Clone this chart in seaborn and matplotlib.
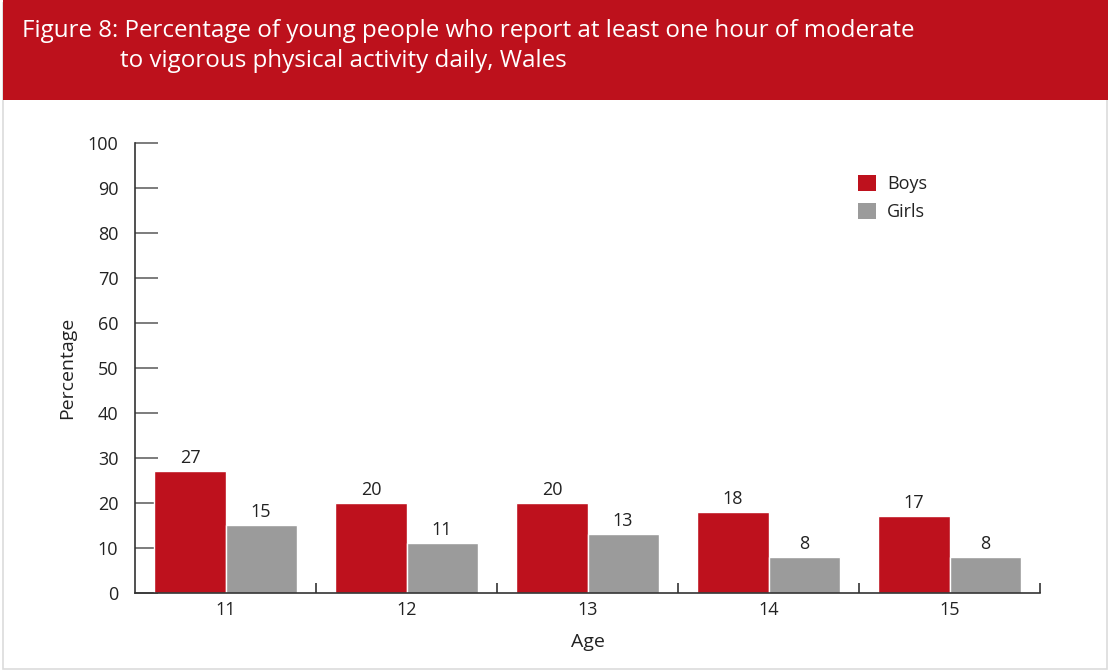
import pandas as pd
import seaborn as sns
import matplotlib.pyplot as plt
from matplotlib.patches import Rectangle, Patch

sns.set_theme(style='white')
plt.rcParams['font.family'] = ['Open Sans', 'DejaVu Sans']

ages = ['11', '12', '13', '14', '15']
boys = [27, 20, 20, 18, 17]
girls = [15, 11, 13, 8, 8]
groups = ['Boys', 'Girls']
colors = {'Boys': '#BE111D', 'Girls': '#9B9B9B'}

df = pd.DataFrame({
    'Age': ages * 2,
    'Percentage': boys + girls,
    'Sex': ['Boys'] * len(ages) + ['Girls'] * len(ages),
})

fig = plt.figure(figsize=(11.1, 6.72), dpi=100)
W, H = 1110, 672

# frame + red header band
fig.add_artist(Rectangle((3 / W, 3 / H), 1104 / W, 1 - 6 / H, transform=fig.transFigure,
                         facecolor='none', edgecolor='#dcdcdc', linewidth=1.2))
fig.add_artist(Rectangle((3 / W, 1 - 100 / H), 1105 / W, 100 / H, transform=fig.transFigure,
                         facecolor='#BD111C', edgecolor='none'))
fig.text(22 / W, 1 - 31 / H, 'Figure 8: Percentage of young people who report at least one hour of moderate',
         color='white', fontsize=17.4, va='center', ha='left')
fig.text(120 / W, 1 - 61 / H, 'to vigorous physical activity daily, Wales',
         color='white', fontsize=17.4, va='center', ha='left')

ax = fig.add_axes([135 / W, 1 - 593 / H, 905 / W, 450.5 / H])
sns.barplot(data=df, x='Age', y='Percentage', hue='Sex', palette=colors,
            width=0.785, edgecolor='white', linewidth=1, saturation=1, ax=ax, legend=False)

for cont in ax.containers:
    ax.bar_label(cont, fontsize=13, color='#222222', padding=3)

ax.set_xlim(-0.5, 4.5)
ax.set_ylim(0, 100)
ax.set_yticks(range(0, 101, 10))
# tick lengths are in points (1 pt = 1.39 px here)
ax.tick_params(axis='y', direction='in', length=16.5, width=1.2, color='#666666',
               labelsize=13, labelcolor='#222222', pad=12, left=True)
ax.tick_params(axis='x', which='major', length=0, labelsize=13, labelcolor='#222222', pad=6)
ax.set_xticks([i + 0.5 for i in range(len(ages))], minor=True)
ax.tick_params(axis='x', which='minor', direction='in', length=7.5, width=1.2, color='#333333', bottom=True)

for s in ['top', 'right']:
    ax.spines[s].set_visible(False)
for s in ['left', 'bottom']:
    ax.spines[s].set_color('#333333')
    ax.spines[s].set_linewidth(1.2)

ax.set_xlabel('Age', fontsize=14, color='#222222', labelpad=10)
ax.set_ylabel('Percentage', fontsize=14, color='#222222', labelpad=8)

handles = [Patch(facecolor=colors[g], edgecolor='none') for g in groups]
ax.legend(handles, groups, loc='upper left', bbox_to_anchor=(0.781, 0.965), frameon=False,
          fontsize=13, handlelength=1.0, handleheight=1.0, handletextpad=0.6, labelspacing=0.55,
          labelcolor='#222222')

fig.savefig('out.png', dpi=100)
